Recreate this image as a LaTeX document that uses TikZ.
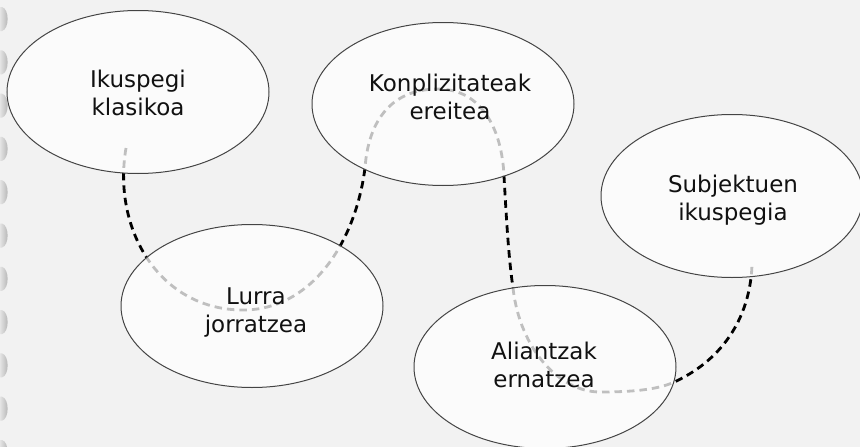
\documentclass[tikz,border=0pt]{standalone}
\usepackage{fontspec}
\setmainfont{DejaVu Sans}
\usetikzlibrary{shapes.geometric}
\definecolor{paper}{HTML}{F2F2F2}
\definecolor{rim}{HTML}{444444}
\definecolor{ink}{HTML}{111111}
\definecolor{ringlight}{HTML}{E4E4E4}
\definecolor{ringdark}{HTML}{ADADAD}
\tikzset{
  bubble/.style={ellipse, draw=rim, line width=1pt, fill=white, fill opacity=0.75,
    text opacity=1, minimum width=262pt, minimum height=163pt, inner sep=0pt},
  caption/.style={text=ink, font=\fontsize{23}{28}\selectfont, align=center, inner sep=0pt},
  trail/.style={draw=black, line width=2.8pt, dash pattern=on 7.5pt off 5pt},
  ring/.style={left color=ringlight, right color=ringdark, draw=none}
}
\begin{document}
\begin{tikzpicture}[x=1pt,y=-1pt]
  \fill[paper] (0,0) rectangle (860,447);
  \useasboundingbox (0,0) rectangle (860,447);

  % binding rings along the left edge
  \foreach \k in {0,...,10}{
    \pgfmathsetmacro{\yy}{7+43.3*\k}
    \shade[ring] (0,\yy) -- (2,\yy) .. controls (9.5,\yy+2) and (9.5,\yy+22) .. (2,\yy+24) -- (0,\yy+24) -- cycle;
  }

  % waypoints of the winding trail
  \coordinate (w0) at (126,148);
  \coordinate (w1) at (243,310);
  \coordinate (w2) at (365,168);
  \coordinate (w3) at (438,89);
  \coordinate (w4) at (504,176);
  \coordinate (w5) at (513,288);
  \coordinate (w6) at (600,392);
  \coordinate (w7) at (672,383);
  \coordinate (w8) at (752,265);

  \draw[trail] (w0) .. controls (112,230) and (160,310) .. (w1)
               .. controls (310,310) and (355,245) .. (w2)
               .. controls (368,125) and (388,89) .. (w3)
               .. controls (482,89) and (502,130) .. (w4)
               .. controls (507,230) and (509,260) .. (w5)
               .. controls (520,350) and (560,392) .. (w6)
               .. controls (630,392) and (655,390) .. (w7)
               .. controls (720,362) and (750,320) .. (w8);

  % stages
  \node[bubble] (e1) at (138,92) {};
  \node[bubble] (e2) at (443,104) {};
  \node[bubble] (e3) at (252,306) {};
  \node[bubble] (e4) at (545,367) {};
  \node[bubble] (e5) at (732,196) {};

  \node[caption] (t1) at (138,93) {Ikuspegi\\klasikoa};
  \node[caption] (t2) at (450,97) {Konplizitateak\\ereitea};
  \node[caption] (t3) at (256,313) {Lurra\\jorratzea};
  \node[caption] (t4) at (544,365) {Aliantzak\\ernatzea};
  \node[caption] (t5) at (733,200) {Subjektuen\\ikuspegia};
\end{tikzpicture}
\end{document}
